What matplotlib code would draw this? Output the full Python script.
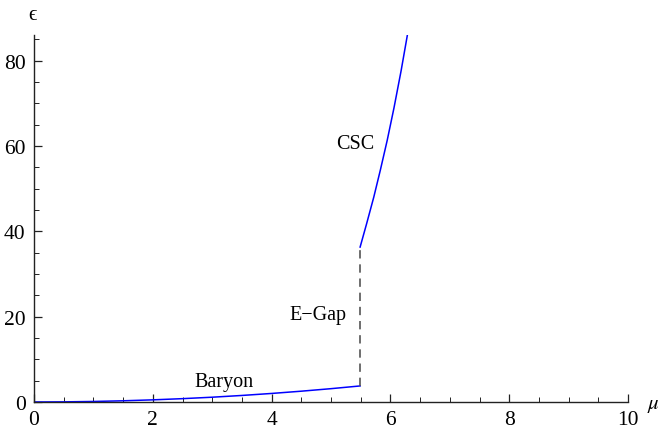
import matplotlib
matplotlib.use("Agg")
import matplotlib.pyplot as plt
from matplotlib.ticker import MultipleLocator

plt.rcParams['font.family'] = ['Liberation Serif', 'DejaVu Serif']
plt.rcParams['mathtext.fontset'] = 'stix'

# Baryon branch
baryon_mu = [0.0, 0.5, 1.0, 1.5, 2.0, 2.5, 3.0, 3.5, 4.0, 4.5, 5.0, 5.49]
baryon_eps = [0.0, 0.03, 0.12, 0.28, 0.5, 0.78, 1.12, 1.53, 2.0, 2.53, 3.12, 3.76]

# CSC branch
csc_mu = [5.49, 5.60, 5.72, 5.83, 5.946, 6.06, 6.18, 6.291]
csc_eps = [36.3, 41.8, 48.0, 54.3, 61.3, 68.9, 77.6, 86.4]

# Energy gap (vertical jump)
gap_mu = [5.49, 5.49]
gap_eps = [3.76, 36.3]

labels = ["CSC", "E\u2212Gap", "Baryon"]
label_pos = [(5.4, 60.5), (4.78, 20.4), (3.2, 4.7)]

fig = plt.figure(figsize=(6.58, 4.35), dpi=100)
ax = fig.add_axes([0.0517, 0.0736, 0.9027, 0.8437])

ax.plot(baryon_mu, baryon_eps, color='#0000ff', lw=1.1)
ax.plot(csc_mu, csc_eps, color='#0000ff', lw=1.1)
ax.plot(gap_mu, gap_eps, color='#555555', lw=1.2, dashes=(5, 3.5))

for t, (x, y) in zip(labels, label_pos):
    ax.text(x, y, t, ha='center', va='center', fontsize=14.5, color='black')

ax.set_xlim(0, 10)
ax.set_ylim(0, 86)
for s in ['top', 'right']:
    ax.spines[s].set_visible(False)
for s in ['left', 'bottom']:
    ax.spines[s].set_color('#222222')
    ax.spines[s].set_linewidth(1.0)

ax.xaxis.set_major_locator(MultipleLocator(2))
ax.xaxis.set_minor_locator(MultipleLocator(0.5))
ax.yaxis.set_major_locator(MultipleLocator(20))
ax.yaxis.set_minor_locator(MultipleLocator(5))
ax.tick_params(which='both', direction='in', colors='#222222', labelcolor='black', labelsize=15.5)
ax.tick_params(which='major', length=6, width=0.9)
ax.tick_params(which='minor', length=3.5, width=0.7)
ax.tick_params(axis='x', pad=6)
ax.tick_params(axis='y', pad=6)

ax.text(-0.002, 1.03, '\u03f5', transform=ax.transAxes, ha='center', va='bottom', fontsize=15)
ax.text(1.042, -0.008, r'$\mu$', transform=ax.transAxes, ha='center', va='center', fontsize=15)

fig.savefig('out.png', dpi=100)
